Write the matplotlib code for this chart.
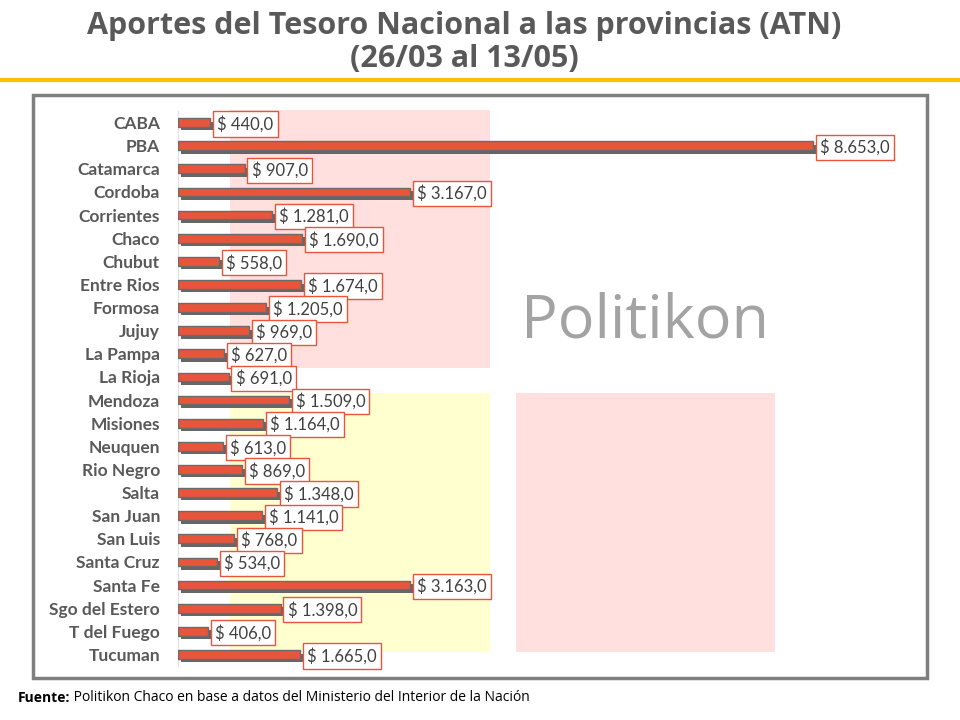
import matplotlib.pyplot as plt
import matplotlib.patheffects as pe
from matplotlib.patches import Rectangle

# datos
provincias = ['CABA', 'PBA', 'Catamarca', 'Cordoba', 'Corrientes', 'Chaco', 'Chubut',
              'Entre Rios', 'Formosa', 'Jujuy', 'La Pampa', 'La Rioja', 'Mendoza',
              'Misiones', 'Neuquen', 'Rio Negro', 'Salta', 'San Juan', 'San Luis',
              'Santa Cruz', 'Santa Fe', 'Sgo del Estero', 'T del Fuego', 'Tucuman']
montos = [440, 8653, 907, 3167, 1281, 1690, 558, 1674, 1205, 969, 627, 691, 1509,
          1164, 613, 869, 1348, 1141, 768, 534, 3163, 1398, 406, 1665]

gris = '#595959'
rojo = '#E8553A'

fig = plt.figure(figsize=(9.6, 7.2), dpi=100)
W, H = 960, 720

def fx(px):
    return px / W

def fy(py):
    return 1 - py / H

# titulo
fig.text(fx(464), fy(26), 'Aportes del Tesoro Nacional a las provincias (ATN)',
         ha='center', va='center', fontsize=22, fontweight='bold', color=gris,
         family='Open Sans')
fig.text(fx(464), fy(59), '(26/03 al 13/05)', ha='center', va='center',
         fontsize=22, fontweight='bold', color=gris, family='Open Sans')

# linea amarilla
fig.add_artist(plt.Line2D([0, 1], [fy(80), fy(80)], color='#FFC000', lw=3))

# marco
fig.add_artist(Rectangle((fx(33), fy(678)), fx(927 - 33), (678 - 95) / H,
                         transform=fig.transFigure, fill=False, ec='#7F7F7F', lw=2.5))

# marca de agua
fig.add_artist(Rectangle((fx(230), fy(368)), fx(260), 258 / H, transform=fig.transFigure,
                         fc='#FFE0DE', ec='none', zorder=0))
fig.add_artist(Rectangle((fx(230), fy(652)), fx(260), 259 / H, transform=fig.transFigure,
                         fc='#FFFFD0', ec='none', zorder=0))
fig.add_artist(Rectangle((fx(516), fy(652)), fx(259), 259 / H, transform=fig.transFigure,
                         fc='#FFE0DE', ec='none', zorder=0))
fig.text(fx(645), fy(322), 'Politikon', ha='center', va='center', fontsize=44,
         color='#A3A3A3', family='Open Sans', zorder=0.5)

# grafico
ax = fig.add_axes([fx(178), fy(666), fx(912 - 178), (666 - 111) / H])
ax.patch.set_alpha(0)
y = list(range(len(provincias)))
bars = ax.barh(y, montos, height=0.38, color=rojo, edgecolor='#6B6B6B', lw=1, zorder=3)
for b in bars:
    b.set_path_effects([pe.SimplePatchShadow(offset=(2.5, -2.5), shadow_rgbFace='#666666',
                                             alpha=1), pe.Normal()])

for yi, v in zip(y, montos):
    txt = '$ ' + f'{v:,.1f}'.replace(',', 'X').replace('.', ',').replace('X', '.')
    ax.annotate(txt, (v, yi), xytext=(5, 0), textcoords='offset points',
                va='center_baseline', ha='left', fontsize=12, color='#404040',
                family='Lato', zorder=5,
                bbox=dict(boxstyle='square,pad=0.25', fc='white', ec=rojo, lw=1))

ax.set_xlim(0, 10000)
ax.set_ylim(len(provincias) - 0.5, -0.5)
ax.set_yticks(y)
ax.set_yticklabels(provincias, fontsize=12.5, fontweight='bold', color=gris,
                   family='Lato')
ax.tick_params(axis='y', length=0, pad=13)
ax.set_xticks([])
for s in ['top', 'right', 'bottom']:
    ax.spines[s].set_visible(False)
ax.spines['left'].set_color('#E0E0E0')

# fuente
t = fig.text(fx(18), fy(698), 'Fuente:', ha='left', va='center', fontsize=10,
             fontweight='bold', family='Open Sans', color='black')
ax.annotate(' Politikon Chaco en base a datos del Ministerio del Interior de la Nación',
            xy=(1, 0), xycoords=t, va='bottom', ha='left', fontsize=10,
            family='Open Sans', color='black', annotation_clip=False)

fig.savefig('out.png', dpi=100)
